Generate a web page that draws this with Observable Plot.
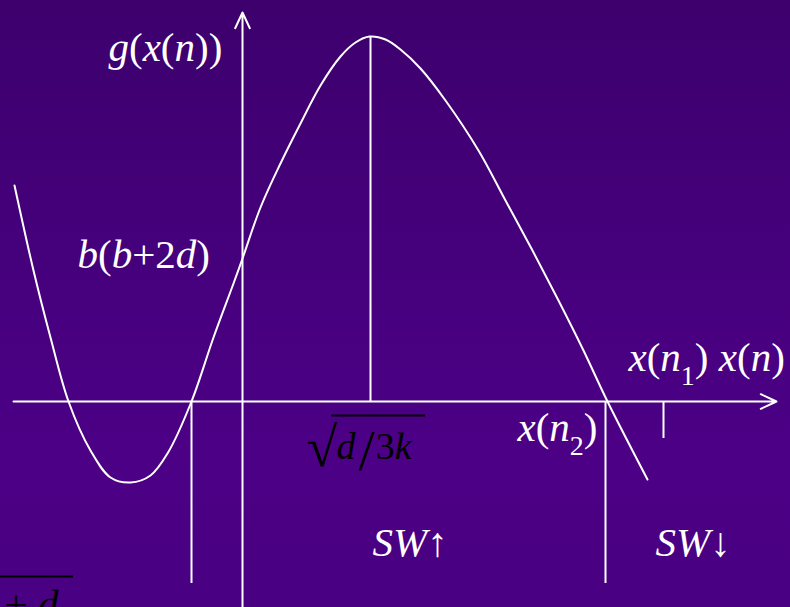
<!DOCTYPE html>
<html>
<head>
<meta charset="utf-8">
<script src="https://cdn.jsdelivr.net/npm/d3@7"></script>
<script src="https://cdn.jsdelivr.net/npm/@observablehq/plot@0.6"></script>
<style>
  html, body { margin: 0; padding: 0; width: 790px; height: 607px; overflow: hidden; background: #45007a; }
</style>
</head>
<body>
<div id="chart"></div>
<script>
// Curve g(x(n)) (x: along x(n) axis, y: g value; origin at axes crossing)
const curveX = [-2.28, -2.09, -1.92, -1.74, -1.52, -1.32, -1.12, -0.92, -0.75, -0.51, -0.29, -0.09, 0, 0.18, 0.38, 0.58, 0.78, 0.98, 1.13, 1.27, 1.43, 1.58, 1.78, 2.03, 2.36, 2.63, 2.90, 3.16, 3.41, 3.65, 4.05];
const curveY = [2.16, 1.31, 0.64, 0.0, -0.49, -0.76, -0.81, -0.74, -0.52, 0.0, 0.64, 1.18, 1.43, 1.94, 2.38, 2.78, 3.16, 3.45, 3.59, 3.65, 3.62, 3.52, 3.33, 3.01, 2.51, 2.01, 1.51, 1.01, 0.51, 0.0, -0.78];

// Axes (with arrow heads)
const axisFrom = [[-2.29, 0], [0, -2.1]];
const axisTo   = [[5.34, 0], [0, 3.89]];

// White guide lines: x position, from y1 to y2
const guideX  = [1.28, -0.51, 3.63, 4.21];
const guideY1 = [0, 0, 0, 0];
const guideY2 = [3.64, -1.82, -1.82, -0.37];

// Labels (markup: letters italic, "_c" = subscript c)
const labelText  = ["g(x(n))", "b(b+2d)", "x(n_2)", "x(n_1) x(n)", "SW↑", "SW↓", "d/3k", "+ d", "√"];
const labelX     = [-1.34, -1.65, 2.75, 3.86, 1.30, 4.13, 0.94, -2.38, 0.64];
const labelY     = [3.41, 1.34, -0.39, 0.31, -1.54, -1.54, -0.57, -2.16, -0.64];
const labelColor = ["white", "white", "white", "white", "white", "white", "black", "black", "black"];
const labelSize  = [41, 41, 41, 41, 41, 41, 38, 41, 56];

// Black overbars (radical bar, and bar of the cut-off label at bottom-left)
const barX1 = [0.89, -2.42];
const barX2 = [1.83, -1.69];
const barY  = [-0.14, -1.75];

const curve = curveX.map((x, i) => ({x, y: curveY[i]}));
const axes = axisFrom.map((a, i) => ({x1: a[0], y1: a[1], x2: axisTo[i][0], y2: axisTo[i][1]}));
const guides = guideX.map((x, i) => ({x, y1: guideY1[i], y2: guideY2[i]}));
const labels = labelText.map((t, i) => ({t, x: labelX[i], y: labelY[i], c: labelColor[i], s: labelSize[i]}));
const bars = barX1.map((x1, i) => ({x1, x2: barX2[i], y: barY[i]}));

const plot = Plot.plot({
  width: 790,
  height: 607,
  margin: 0,
  x: {domain: [-2.42, 5.48], axis: null},
  y: {domain: [-2.06, 4.01], axis: null},
  style: {background: "linear-gradient(to bottom, #3d006d 0%, #46007d 45%, #4c0086 75%, #4a0082 100%)", overflow: "hidden"},
  marks: [
    Plot.ruleX(guides, {x: "x", y1: "y1", y2: "y2", stroke: "white", strokeWidth: 2}),
    Plot.arrow(axes, {x1: "x1", y1: "y1", x2: "x2", y2: "y2", stroke: "white", strokeWidth: 2, headLength: 13, headAngle: 50}),
    Plot.line(curve, {x: "x", y: "y", curve: "catmull-rom", stroke: "white", strokeWidth: 2}),
    Plot.ruleY(bars, {x1: "x1", x2: "x2", y: "y", stroke: "black", strokeWidth: 2}),
    Plot.text(labels, {x: "x", y: "y", text: "t", fill: "c", fontSize: "s", textAnchor: "start", lineAnchor: "bottom",
      fontFamily: "Liberation Serif, Times New Roman, serif", className: "rich"})
  ]
});

// Rich text: letters italic, digits/symbols upright, "_c" subscript, "/" as a tall fraction slash
d3.select(plot).selectAll("g.rich text").each(function() {
  const s = this.textContent;
  if (s === "√") return;
  this.textContent = "";
  const runs = [];
  for (let i = 0; i < s.length; i++) {
    const c = s[i];
    if (c === "_") { runs.push({t: s[i + 1], sub: true}); i++; continue; }
    if (c === "/") { runs.push({t: c, slash: true}); continue; }
    const it = /[A-Za-z]/.test(c);
    const last = runs[runs.length - 1];
    if (last && !last.sub && !last.slash && last.it === it) last.t += c; else runs.push({t: c, it});
  }
  let shift = 0, extra = 0;
  for (const r of runs) {
    const ts = d3.select(this).append("tspan").text(r.t);
    if (r.sub) { ts.attr("font-size", 28).attr("dy", 14); shift = 14; }
    else if (r.slash) { ts.attr("font-size", 58).attr("font-style", "normal").attr("dy", 11).attr("dx", 3); shift = 11; extra = 1; }
    else {
      ts.attr("font-style", r.it ? "italic" : "normal");
      if (shift) { ts.attr("dy", -shift); shift = 0; }
      if (extra) { ts.attr("dx", extra); extra = 0; }
    }
  }
});

document.getElementById("chart").appendChild(plot);
</script>
</body>
</html>
